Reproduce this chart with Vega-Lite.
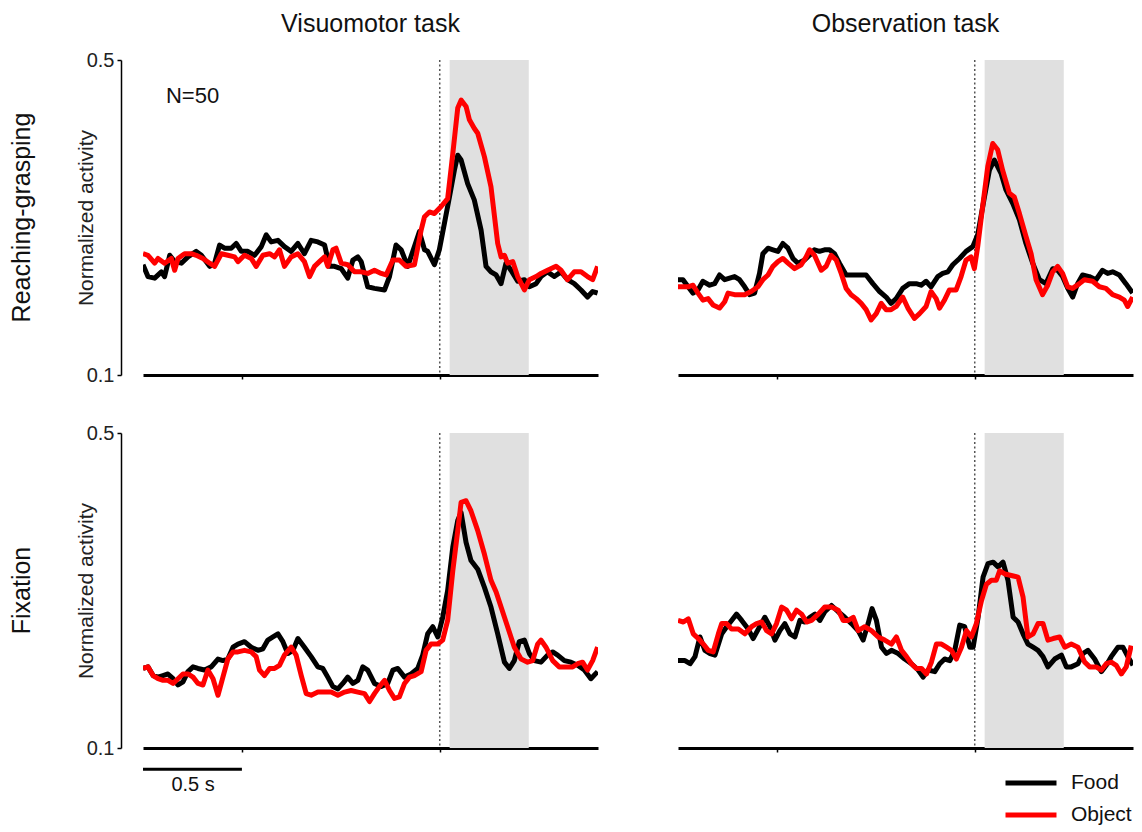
{
  "$schema": "https://vega.github.io/schema/vega-lite/v6.json",
  "padding": {"left": 10, "top": 12, "right": 5, "bottom": 5},
  "background": "white",
  "data": {"values": [
    {"task":"V","cond":"R","kind":"band","b0":0.05,"b1":0.45,"ev":0},
    {"task":"O","cond":"R","kind":"band","b0":0.05,"b1":0.45,"ev":0},
    {"task":"V","cond":"F","kind":"band","b0":0.05,"b1":0.45,"ev":0},
    {"task":"O","cond":"F","kind":"band","b0":0.05,"b1":0.45,"ev":0},
    {"task":"V","cond":"R","kind":"note","t":-1.384,"v":0.454,"label":"N=50"},
    {"task":"V","cond":"F","kind":"bar","t":-1.5,"t2":-1.0,"v":0.073},
    {"task":"V","cond":"F","kind":"barlabel","t":-1.247,"v":0.053,"label":"0.5 s"},

    {"task":"V","cond":"R","stim":"Food","t":-1.5,"v":0.240},
    {"task":"V","cond":"R","stim":"Food","t":-1.475,"v":0.225},
    {"task":"V","cond":"R","stim":"Food","t":-1.441,"v":0.223},
    {"task":"V","cond":"R","stim":"Food","t":-1.407,"v":0.231},
    {"task":"V","cond":"R","stim":"Food","t":-1.391,"v":0.225},
    {"task":"V","cond":"R","stim":"Food","t":-1.365,"v":0.252},
    {"task":"V","cond":"R","stim":"Food","t":-1.34,"v":0.244},
    {"task":"V","cond":"R","stim":"Food","t":-1.306,"v":0.242},
    {"task":"V","cond":"R","stim":"Food","t":-1.273,"v":0.250},
    {"task":"V","cond":"R","stim":"Food","t":-1.231,"v":0.257},
    {"task":"V","cond":"R","stim":"Food","t":-1.205,"v":0.252},
    {"task":"V","cond":"R","stim":"Food","t":-1.163,"v":0.238},
    {"task":"V","cond":"R","stim":"Food","t":-1.138,"v":0.242},
    {"task":"V","cond":"R","stim":"Food","t":-1.113,"v":0.265},
    {"task":"V","cond":"R","stim":"Food","t":-1.088,"v":0.261},
    {"task":"V","cond":"R","stim":"Food","t":-1.054,"v":0.261},
    {"task":"V","cond":"R","stim":"Food","t":-1.029,"v":0.267},
    {"task":"V","cond":"R","stim":"Food","t":-1.003,"v":0.257},
    {"task":"V","cond":"R","stim":"Food","t":-0.97,"v":0.257},
    {"task":"V","cond":"R","stim":"Food","t":-0.936,"v":0.252},
    {"task":"V","cond":"R","stim":"Food","t":-0.902,"v":0.263},
    {"task":"V","cond":"R","stim":"Food","t":-0.877,"v":0.278},
    {"task":"V","cond":"R","stim":"Food","t":-0.852,"v":0.269},
    {"task":"V","cond":"R","stim":"Food","t":-0.818,"v":0.271},
    {"task":"V","cond":"R","stim":"Food","t":-0.785,"v":0.263},
    {"task":"V","cond":"R","stim":"Food","t":-0.751,"v":0.257},
    {"task":"V","cond":"R","stim":"Food","t":-0.717,"v":0.267},
    {"task":"V","cond":"R","stim":"Food","t":-0.684,"v":0.254},
    {"task":"V","cond":"R","stim":"Food","t":-0.65,"v":0.271},
    {"task":"V","cond":"R","stim":"Food","t":-0.616,"v":0.269},
    {"task":"V","cond":"R","stim":"Food","t":-0.582,"v":0.265},
    {"task":"V","cond":"R","stim":"Food","t":-0.557,"v":0.238},
    {"task":"V","cond":"R","stim":"Food","t":-0.532,"v":0.238},
    {"task":"V","cond":"R","stim":"Food","t":-0.498,"v":0.235},
    {"task":"V","cond":"R","stim":"Food","t":-0.465,"v":0.223},
    {"task":"V","cond":"R","stim":"Food","t":-0.439,"v":0.246},
    {"task":"V","cond":"R","stim":"Food","t":-0.414,"v":0.250},
    {"task":"V","cond":"R","stim":"Food","t":-0.397,"v":0.244},
    {"task":"V","cond":"R","stim":"Food","t":-0.364,"v":0.212},
    {"task":"V","cond":"R","stim":"Food","t":-0.33,"v":0.210},
    {"task":"V","cond":"R","stim":"Food","t":-0.279,"v":0.208},
    {"task":"V","cond":"R","stim":"Food","t":-0.254,"v":0.225},
    {"task":"V","cond":"R","stim":"Food","t":-0.221,"v":0.265},
    {"task":"V","cond":"R","stim":"Food","t":-0.195,"v":0.259},
    {"task":"V","cond":"R","stim":"Food","t":-0.162,"v":0.238},
    {"task":"V","cond":"R","stim":"Food","t":-0.128,"v":0.263},
    {"task":"V","cond":"R","stim":"Food","t":-0.103,"v":0.282},
    {"task":"V","cond":"R","stim":"Food","t":-0.077,"v":0.259},
    {"task":"V","cond":"R","stim":"Food","t":-0.061,"v":0.257},
    {"task":"V","cond":"R","stim":"Food","t":-0.027,"v":0.240},
    {"task":"V","cond":"R","stim":"Food","t":-0.002,"v":0.259},
    {"task":"V","cond":"R","stim":"Food","t":0.024,"v":0.293},
    {"task":"V","cond":"R","stim":"Food","t":0.049,"v":0.326},
    {"task":"V","cond":"R","stim":"Food","t":0.074,"v":0.360},
    {"task":"V","cond":"R","stim":"Food","t":0.091,"v":0.379},
    {"task":"V","cond":"R","stim":"Food","t":0.108,"v":0.373},
    {"task":"V","cond":"R","stim":"Food","t":0.141,"v":0.343},
    {"task":"V","cond":"R","stim":"Food","t":0.175,"v":0.322},
    {"task":"V","cond":"R","stim":"Food","t":0.209,"v":0.284},
    {"task":"V","cond":"R","stim":"Food","t":0.234,"v":0.238},
    {"task":"V","cond":"R","stim":"Food","t":0.259,"v":0.231},
    {"task":"V","cond":"R","stim":"Food","t":0.285,"v":0.227},
    {"task":"V","cond":"R","stim":"Food","t":0.31,"v":0.216},
    {"task":"V","cond":"R","stim":"Food","t":0.335,"v":0.242},
    {"task":"V","cond":"R","stim":"Food","t":0.36,"v":0.233},
    {"task":"V","cond":"R","stim":"Food","t":0.394,"v":0.219},
    {"task":"V","cond":"R","stim":"Food","t":0.428,"v":0.221},
    {"task":"V","cond":"R","stim":"Food","t":0.453,"v":0.212},
    {"task":"V","cond":"R","stim":"Food","t":0.487,"v":0.216},
    {"task":"V","cond":"R","stim":"Food","t":0.512,"v":0.225},
    {"task":"V","cond":"R","stim":"Food","t":0.545,"v":0.231},
    {"task":"V","cond":"R","stim":"Food","t":0.579,"v":0.225},
    {"task":"V","cond":"R","stim":"Food","t":0.613,"v":0.231},
    {"task":"V","cond":"R","stim":"Food","t":0.646,"v":0.221},
    {"task":"V","cond":"R","stim":"Food","t":0.68,"v":0.216},
    {"task":"V","cond":"R","stim":"Food","t":0.714,"v":0.208},
    {"task":"V","cond":"R","stim":"Food","t":0.747,"v":0.199},
    {"task":"V","cond":"R","stim":"Food","t":0.773,"v":0.206},
    {"task":"V","cond":"R","stim":"Food","t":0.798,"v":0.204},

    {"task":"V","cond":"R","stim":"Object","t":-1.5,"v":0.254},
    {"task":"V","cond":"R","stim":"Object","t":-1.475,"v":0.252},
    {"task":"V","cond":"R","stim":"Object","t":-1.441,"v":0.242},
    {"task":"V","cond":"R","stim":"Object","t":-1.424,"v":0.248},
    {"task":"V","cond":"R","stim":"Object","t":-1.391,"v":0.242},
    {"task":"V","cond":"R","stim":"Object","t":-1.357,"v":0.248},
    {"task":"V","cond":"R","stim":"Object","t":-1.34,"v":0.233},
    {"task":"V","cond":"R","stim":"Object","t":-1.323,"v":0.248},
    {"task":"V","cond":"R","stim":"Object","t":-1.29,"v":0.254},
    {"task":"V","cond":"R","stim":"Object","t":-1.256,"v":0.254},
    {"task":"V","cond":"R","stim":"Object","t":-1.231,"v":0.252},
    {"task":"V","cond":"R","stim":"Object","t":-1.197,"v":0.248},
    {"task":"V","cond":"R","stim":"Object","t":-1.163,"v":0.242},
    {"task":"V","cond":"R","stim":"Object","t":-1.138,"v":0.238},
    {"task":"V","cond":"R","stim":"Object","t":-1.104,"v":0.254},
    {"task":"V","cond":"R","stim":"Object","t":-1.071,"v":0.252},
    {"task":"V","cond":"R","stim":"Object","t":-1.037,"v":0.250},
    {"task":"V","cond":"R","stim":"Object","t":-1.02,"v":0.244},
    {"task":"V","cond":"R","stim":"Object","t":-0.987,"v":0.252},
    {"task":"V","cond":"R","stim":"Object","t":-0.953,"v":0.248},
    {"task":"V","cond":"R","stim":"Object","t":-0.928,"v":0.238},
    {"task":"V","cond":"R","stim":"Object","t":-0.894,"v":0.252},
    {"task":"V","cond":"R","stim":"Object","t":-0.86,"v":0.254},
    {"task":"V","cond":"R","stim":"Object","t":-0.835,"v":0.250},
    {"task":"V","cond":"R","stim":"Object","t":-0.81,"v":0.259},
    {"task":"V","cond":"R","stim":"Object","t":-0.785,"v":0.238},
    {"task":"V","cond":"R","stim":"Object","t":-0.751,"v":0.250},
    {"task":"V","cond":"R","stim":"Object","t":-0.717,"v":0.254},
    {"task":"V","cond":"R","stim":"Object","t":-0.684,"v":0.244},
    {"task":"V","cond":"R","stim":"Object","t":-0.658,"v":0.225},
    {"task":"V","cond":"R","stim":"Object","t":-0.633,"v":0.238},
    {"task":"V","cond":"R","stim":"Object","t":-0.608,"v":0.244},
    {"task":"V","cond":"R","stim":"Object","t":-0.582,"v":0.250},
    {"task":"V","cond":"R","stim":"Object","t":-0.566,"v":0.238},
    {"task":"V","cond":"R","stim":"Object","t":-0.54,"v":0.259},
    {"task":"V","cond":"R","stim":"Object","t":-0.524,"v":0.261},
    {"task":"V","cond":"R","stim":"Object","t":-0.498,"v":0.242},
    {"task":"V","cond":"R","stim":"Object","t":-0.465,"v":0.240},
    {"task":"V","cond":"R","stim":"Object","t":-0.431,"v":0.231},
    {"task":"V","cond":"R","stim":"Object","t":-0.397,"v":0.231},
    {"task":"V","cond":"R","stim":"Object","t":-0.364,"v":0.229},
    {"task":"V","cond":"R","stim":"Object","t":-0.33,"v":0.233},
    {"task":"V","cond":"R","stim":"Object","t":-0.296,"v":0.229},
    {"task":"V","cond":"R","stim":"Object","t":-0.271,"v":0.227},
    {"task":"V","cond":"R","stim":"Object","t":-0.237,"v":0.246},
    {"task":"V","cond":"R","stim":"Object","t":-0.204,"v":0.246},
    {"task":"V","cond":"R","stim":"Object","t":-0.17,"v":0.238},
    {"task":"V","cond":"R","stim":"Object","t":-0.128,"v":0.240},
    {"task":"V","cond":"R","stim":"Object","t":-0.094,"v":0.284},
    {"task":"V","cond":"R","stim":"Object","t":-0.077,"v":0.301},
    {"task":"V","cond":"R","stim":"Object","t":-0.052,"v":0.307},
    {"task":"V","cond":"R","stim":"Object","t":-0.027,"v":0.305},
    {"task":"V","cond":"R","stim":"Object","t":0.007,"v":0.314},
    {"task":"V","cond":"R","stim":"Object","t":0.04,"v":0.324},
    {"task":"V","cond":"R","stim":"Object","t":0.066,"v":0.381},
    {"task":"V","cond":"R","stim":"Object","t":0.091,"v":0.439},
    {"task":"V","cond":"R","stim":"Object","t":0.108,"v":0.449},
    {"task":"V","cond":"R","stim":"Object","t":0.133,"v":0.441},
    {"task":"V","cond":"R","stim":"Object","t":0.15,"v":0.424},
    {"task":"V","cond":"R","stim":"Object","t":0.175,"v":0.413},
    {"task":"V","cond":"R","stim":"Object","t":0.192,"v":0.407},
    {"task":"V","cond":"R","stim":"Object","t":0.226,"v":0.377},
    {"task":"V","cond":"R","stim":"Object","t":0.259,"v":0.339},
    {"task":"V","cond":"R","stim":"Object","t":0.293,"v":0.267},
    {"task":"V","cond":"R","stim":"Object","t":0.31,"v":0.250},
    {"task":"V","cond":"R","stim":"Object","t":0.327,"v":0.252},
    {"task":"V","cond":"R","stim":"Object","t":0.343,"v":0.242},
    {"task":"V","cond":"R","stim":"Object","t":0.369,"v":0.244},
    {"task":"V","cond":"R","stim":"Object","t":0.394,"v":0.225},
    {"task":"V","cond":"R","stim":"Object","t":0.428,"v":0.208},
    {"task":"V","cond":"R","stim":"Object","t":0.453,"v":0.221},
    {"task":"V","cond":"R","stim":"Object","t":0.487,"v":0.225},
    {"task":"V","cond":"R","stim":"Object","t":0.512,"v":0.229},
    {"task":"V","cond":"R","stim":"Object","t":0.545,"v":0.233},
    {"task":"V","cond":"R","stim":"Object","t":0.588,"v":0.238},
    {"task":"V","cond":"R","stim":"Object","t":0.613,"v":0.233},
    {"task":"V","cond":"R","stim":"Object","t":0.646,"v":0.221},
    {"task":"V","cond":"R","stim":"Object","t":0.68,"v":0.231},
    {"task":"V","cond":"R","stim":"Object","t":0.714,"v":0.231},
    {"task":"V","cond":"R","stim":"Object","t":0.747,"v":0.225},
    {"task":"V","cond":"R","stim":"Object","t":0.773,"v":0.221},
    {"task":"V","cond":"R","stim":"Object","t":0.798,"v":0.238},

    {"task":"O","cond":"R","stim":"Food","t":-1.5,"v":0.221},
    {"task":"O","cond":"R","stim":"Food","t":-1.475,"v":0.221},
    {"task":"O","cond":"R","stim":"Food","t":-1.449,"v":0.212},
    {"task":"O","cond":"R","stim":"Food","t":-1.424,"v":0.204},
    {"task":"O","cond":"R","stim":"Food","t":-1.399,"v":0.208},
    {"task":"O","cond":"R","stim":"Food","t":-1.374,"v":0.219},
    {"task":"O","cond":"R","stim":"Food","t":-1.34,"v":0.214},
    {"task":"O","cond":"R","stim":"Food","t":-1.315,"v":0.216},
    {"task":"O","cond":"R","stim":"Food","t":-1.29,"v":0.227},
    {"task":"O","cond":"R","stim":"Food","t":-1.264,"v":0.221},
    {"task":"O","cond":"R","stim":"Food","t":-1.239,"v":0.223},
    {"task":"O","cond":"R","stim":"Food","t":-1.214,"v":0.225},
    {"task":"O","cond":"R","stim":"Food","t":-1.189,"v":0.221},
    {"task":"O","cond":"R","stim":"Food","t":-1.163,"v":0.212},
    {"task":"O","cond":"R","stim":"Food","t":-1.138,"v":0.202},
    {"task":"O","cond":"R","stim":"Food","t":-1.113,"v":0.204},
    {"task":"O","cond":"R","stim":"Food","t":-1.088,"v":0.229},
    {"task":"O","cond":"R","stim":"Food","t":-1.071,"v":0.254},
    {"task":"O","cond":"R","stim":"Food","t":-1.045,"v":0.261},
    {"task":"O","cond":"R","stim":"Food","t":-1.02,"v":0.259},
    {"task":"O","cond":"R","stim":"Food","t":-0.995,"v":0.257},
    {"task":"O","cond":"R","stim":"Food","t":-0.97,"v":0.267},
    {"task":"O","cond":"R","stim":"Food","t":-0.944,"v":0.261},
    {"task":"O","cond":"R","stim":"Food","t":-0.919,"v":0.248},
    {"task":"O","cond":"R","stim":"Food","t":-0.894,"v":0.242},
    {"task":"O","cond":"R","stim":"Food","t":-0.86,"v":0.246},
    {"task":"O","cond":"R","stim":"Food","t":-0.835,"v":0.252},
    {"task":"O","cond":"R","stim":"Food","t":-0.81,"v":0.259},
    {"task":"O","cond":"R","stim":"Food","t":-0.785,"v":0.257},
    {"task":"O","cond":"R","stim":"Food","t":-0.759,"v":0.259},
    {"task":"O","cond":"R","stim":"Food","t":-0.734,"v":0.259},
    {"task":"O","cond":"R","stim":"Food","t":-0.709,"v":0.254},
    {"task":"O","cond":"R","stim":"Food","t":-0.684,"v":0.242},
    {"task":"O","cond":"R","stim":"Food","t":-0.65,"v":0.227},
    {"task":"O","cond":"R","stim":"Food","t":-0.616,"v":0.227},
    {"task":"O","cond":"R","stim":"Food","t":-0.582,"v":0.227},
    {"task":"O","cond":"R","stim":"Food","t":-0.549,"v":0.227},
    {"task":"O","cond":"R","stim":"Food","t":-0.515,"v":0.216},
    {"task":"O","cond":"R","stim":"Food","t":-0.481,"v":0.206},
    {"task":"O","cond":"R","stim":"Food","t":-0.448,"v":0.199},
    {"task":"O","cond":"R","stim":"Food","t":-0.423,"v":0.191},
    {"task":"O","cond":"R","stim":"Food","t":-0.397,"v":0.197},
    {"task":"O","cond":"R","stim":"Food","t":-0.364,"v":0.210},
    {"task":"O","cond":"R","stim":"Food","t":-0.33,"v":0.216},
    {"task":"O","cond":"R","stim":"Food","t":-0.296,"v":0.216},
    {"task":"O","cond":"R","stim":"Food","t":-0.271,"v":0.214},
    {"task":"O","cond":"R","stim":"Food","t":-0.246,"v":0.219},
    {"task":"O","cond":"R","stim":"Food","t":-0.221,"v":0.212},
    {"task":"O","cond":"R","stim":"Food","t":-0.187,"v":0.225},
    {"task":"O","cond":"R","stim":"Food","t":-0.162,"v":0.229},
    {"task":"O","cond":"R","stim":"Food","t":-0.136,"v":0.231},
    {"task":"O","cond":"R","stim":"Food","t":-0.111,"v":0.240},
    {"task":"O","cond":"R","stim":"Food","t":-0.077,"v":0.248},
    {"task":"O","cond":"R","stim":"Food","t":-0.044,"v":0.257},
    {"task":"O","cond":"R","stim":"Food","t":-0.01,"v":0.263},
    {"task":"O","cond":"R","stim":"Food","t":0.015,"v":0.278},
    {"task":"O","cond":"R","stim":"Food","t":0.049,"v":0.326},
    {"task":"O","cond":"R","stim":"Food","t":0.074,"v":0.360},
    {"task":"O","cond":"R","stim":"Food","t":0.099,"v":0.373},
    {"task":"O","cond":"R","stim":"Food","t":0.133,"v":0.356},
    {"task":"O","cond":"R","stim":"Food","t":0.158,"v":0.335},
    {"task":"O","cond":"R","stim":"Food","t":0.192,"v":0.318},
    {"task":"O","cond":"R","stim":"Food","t":0.226,"v":0.297},
    {"task":"O","cond":"R","stim":"Food","t":0.259,"v":0.267},
    {"task":"O","cond":"R","stim":"Food","t":0.293,"v":0.242},
    {"task":"O","cond":"R","stim":"Food","t":0.327,"v":0.221},
    {"task":"O","cond":"R","stim":"Food","t":0.36,"v":0.216},
    {"task":"O","cond":"R","stim":"Food","t":0.394,"v":0.235},
    {"task":"O","cond":"R","stim":"Food","t":0.419,"v":0.233},
    {"task":"O","cond":"R","stim":"Food","t":0.444,"v":0.225},
    {"task":"O","cond":"R","stim":"Food","t":0.47,"v":0.210},
    {"task":"O","cond":"R","stim":"Food","t":0.495,"v":0.199},
    {"task":"O","cond":"R","stim":"Food","t":0.52,"v":0.216},
    {"task":"O","cond":"R","stim":"Food","t":0.545,"v":0.227},
    {"task":"O","cond":"R","stim":"Food","t":0.579,"v":0.225},
    {"task":"O","cond":"R","stim":"Food","t":0.613,"v":0.221},
    {"task":"O","cond":"R","stim":"Food","t":0.646,"v":0.233},
    {"task":"O","cond":"R","stim":"Food","t":0.672,"v":0.229},
    {"task":"O","cond":"R","stim":"Food","t":0.697,"v":0.231},
    {"task":"O","cond":"R","stim":"Food","t":0.731,"v":0.227},
    {"task":"O","cond":"R","stim":"Food","t":0.764,"v":0.216},
    {"task":"O","cond":"R","stim":"Food","t":0.798,"v":0.204},

    {"task":"O","cond":"R","stim":"Object","t":-1.5,"v":0.212},
    {"task":"O","cond":"R","stim":"Object","t":-1.475,"v":0.212},
    {"task":"O","cond":"R","stim":"Object","t":-1.449,"v":0.212},
    {"task":"O","cond":"R","stim":"Object","t":-1.424,"v":0.214},
    {"task":"O","cond":"R","stim":"Object","t":-1.399,"v":0.204},
    {"task":"O","cond":"R","stim":"Object","t":-1.374,"v":0.195},
    {"task":"O","cond":"R","stim":"Object","t":-1.348,"v":0.197},
    {"task":"O","cond":"R","stim":"Object","t":-1.323,"v":0.189},
    {"task":"O","cond":"R","stim":"Object","t":-1.29,"v":0.185},
    {"task":"O","cond":"R","stim":"Object","t":-1.264,"v":0.193},
    {"task":"O","cond":"R","stim":"Object","t":-1.247,"v":0.204},
    {"task":"O","cond":"R","stim":"Object","t":-1.214,"v":0.202},
    {"task":"O","cond":"R","stim":"Object","t":-1.189,"v":0.202},
    {"task":"O","cond":"R","stim":"Object","t":-1.163,"v":0.202},
    {"task":"O","cond":"R","stim":"Object","t":-1.13,"v":0.206},
    {"task":"O","cond":"R","stim":"Object","t":-1.096,"v":0.212},
    {"task":"O","cond":"R","stim":"Object","t":-1.071,"v":0.221},
    {"task":"O","cond":"R","stim":"Object","t":-1.045,"v":0.227},
    {"task":"O","cond":"R","stim":"Object","t":-1.02,"v":0.238},
    {"task":"O","cond":"R","stim":"Object","t":-0.995,"v":0.244},
    {"task":"O","cond":"R","stim":"Object","t":-0.97,"v":0.248},
    {"task":"O","cond":"R","stim":"Object","t":-0.944,"v":0.242},
    {"task":"O","cond":"R","stim":"Object","t":-0.911,"v":0.235},
    {"task":"O","cond":"R","stim":"Object","t":-0.877,"v":0.240},
    {"task":"O","cond":"R","stim":"Object","t":-0.852,"v":0.250},
    {"task":"O","cond":"R","stim":"Object","t":-0.835,"v":0.259},
    {"task":"O","cond":"R","stim":"Object","t":-0.81,"v":0.252},
    {"task":"O","cond":"R","stim":"Object","t":-0.776,"v":0.233},
    {"task":"O","cond":"R","stim":"Object","t":-0.751,"v":0.238},
    {"task":"O","cond":"R","stim":"Object","t":-0.726,"v":0.252},
    {"task":"O","cond":"R","stim":"Object","t":-0.7,"v":0.246},
    {"task":"O","cond":"R","stim":"Object","t":-0.675,"v":0.229},
    {"task":"O","cond":"R","stim":"Object","t":-0.65,"v":0.210},
    {"task":"O","cond":"R","stim":"Object","t":-0.625,"v":0.202},
    {"task":"O","cond":"R","stim":"Object","t":-0.599,"v":0.197},
    {"task":"O","cond":"R","stim":"Object","t":-0.574,"v":0.191},
    {"task":"O","cond":"R","stim":"Object","t":-0.549,"v":0.183},
    {"task":"O","cond":"R","stim":"Object","t":-0.524,"v":0.170},
    {"task":"O","cond":"R","stim":"Object","t":-0.498,"v":0.178},
    {"task":"O","cond":"R","stim":"Object","t":-0.473,"v":0.191},
    {"task":"O","cond":"R","stim":"Object","t":-0.448,"v":0.183},
    {"task":"O","cond":"R","stim":"Object","t":-0.423,"v":0.183},
    {"task":"O","cond":"R","stim":"Object","t":-0.397,"v":0.187},
    {"task":"O","cond":"R","stim":"Object","t":-0.364,"v":0.199},
    {"task":"O","cond":"R","stim":"Object","t":-0.338,"v":0.185},
    {"task":"O","cond":"R","stim":"Object","t":-0.305,"v":0.172},
    {"task":"O","cond":"R","stim":"Object","t":-0.279,"v":0.178},
    {"task":"O","cond":"R","stim":"Object","t":-0.246,"v":0.187},
    {"task":"O","cond":"R","stim":"Object","t":-0.221,"v":0.206},
    {"task":"O","cond":"R","stim":"Object","t":-0.195,"v":0.197},
    {"task":"O","cond":"R","stim":"Object","t":-0.178,"v":0.185},
    {"task":"O","cond":"R","stim":"Object","t":-0.153,"v":0.195},
    {"task":"O","cond":"R","stim":"Object","t":-0.128,"v":0.208},
    {"task":"O","cond":"R","stim":"Object","t":-0.094,"v":0.208},
    {"task":"O","cond":"R","stim":"Object","t":-0.069,"v":0.225},
    {"task":"O","cond":"R","stim":"Object","t":-0.044,"v":0.246},
    {"task":"O","cond":"R","stim":"Object","t":-0.019,"v":0.250},
    {"task":"O","cond":"R","stim":"Object","t":-0.002,"v":0.235},
    {"task":"O","cond":"R","stim":"Object","t":0.015,"v":0.263},
    {"task":"O","cond":"R","stim":"Object","t":0.04,"v":0.314},
    {"task":"O","cond":"R","stim":"Object","t":0.066,"v":0.365},
    {"task":"O","cond":"R","stim":"Object","t":0.091,"v":0.394},
    {"task":"O","cond":"R","stim":"Object","t":0.116,"v":0.386},
    {"task":"O","cond":"R","stim":"Object","t":0.141,"v":0.360},
    {"task":"O","cond":"R","stim":"Object","t":0.175,"v":0.331},
    {"task":"O","cond":"R","stim":"Object","t":0.2,"v":0.326},
    {"task":"O","cond":"R","stim":"Object","t":0.226,"v":0.305},
    {"task":"O","cond":"R","stim":"Object","t":0.259,"v":0.276},
    {"task":"O","cond":"R","stim":"Object","t":0.285,"v":0.254},
    {"task":"O","cond":"R","stim":"Object","t":0.31,"v":0.221},
    {"task":"O","cond":"R","stim":"Object","t":0.343,"v":0.202},
    {"task":"O","cond":"R","stim":"Object","t":0.369,"v":0.214},
    {"task":"O","cond":"R","stim":"Object","t":0.394,"v":0.231},
    {"task":"O","cond":"R","stim":"Object","t":0.419,"v":0.238},
    {"task":"O","cond":"R","stim":"Object","t":0.444,"v":0.229},
    {"task":"O","cond":"R","stim":"Object","t":0.47,"v":0.212},
    {"task":"O","cond":"R","stim":"Object","t":0.495,"v":0.210},
    {"task":"O","cond":"R","stim":"Object","t":0.529,"v":0.216},
    {"task":"O","cond":"R","stim":"Object","t":0.554,"v":0.221},
    {"task":"O","cond":"R","stim":"Object","t":0.596,"v":0.219},
    {"task":"O","cond":"R","stim":"Object","t":0.63,"v":0.212},
    {"task":"O","cond":"R","stim":"Object","t":0.663,"v":0.210},
    {"task":"O","cond":"R","stim":"Object","t":0.697,"v":0.202},
    {"task":"O","cond":"R","stim":"Object","t":0.731,"v":0.199},
    {"task":"O","cond":"R","stim":"Object","t":0.756,"v":0.195},
    {"task":"O","cond":"R","stim":"Object","t":0.773,"v":0.187},
    {"task":"O","cond":"R","stim":"Object","t":0.798,"v":0.199},

    {"task":"V","cond":"F","stim":"Food","t":-1.5,"v":0.201},
    {"task":"V","cond":"F","stim":"Food","t":-1.475,"v":0.203},
    {"task":"V","cond":"F","stim":"Food","t":-1.449,"v":0.192},
    {"task":"V","cond":"F","stim":"Food","t":-1.424,"v":0.190},
    {"task":"V","cond":"F","stim":"Food","t":-1.399,"v":0.192},
    {"task":"V","cond":"F","stim":"Food","t":-1.374,"v":0.194},
    {"task":"V","cond":"F","stim":"Food","t":-1.348,"v":0.188},
    {"task":"V","cond":"F","stim":"Food","t":-1.323,"v":0.180},
    {"task":"V","cond":"F","stim":"Food","t":-1.298,"v":0.184},
    {"task":"V","cond":"F","stim":"Food","t":-1.273,"v":0.197},
    {"task":"V","cond":"F","stim":"Food","t":-1.247,"v":0.203},
    {"task":"V","cond":"F","stim":"Food","t":-1.222,"v":0.201},
    {"task":"V","cond":"F","stim":"Food","t":-1.189,"v":0.199},
    {"task":"V","cond":"F","stim":"Food","t":-1.155,"v":0.203},
    {"task":"V","cond":"F","stim":"Food","t":-1.121,"v":0.213},
    {"task":"V","cond":"F","stim":"Food","t":-1.096,"v":0.211},
    {"task":"V","cond":"F","stim":"Food","t":-1.071,"v":0.213},
    {"task":"V","cond":"F","stim":"Food","t":-1.045,"v":0.228},
    {"task":"V","cond":"F","stim":"Food","t":-1.02,"v":0.232},
    {"task":"V","cond":"F","stim":"Food","t":-0.987,"v":0.235},
    {"task":"V","cond":"F","stim":"Food","t":-0.953,"v":0.228},
    {"task":"V","cond":"F","stim":"Food","t":-0.919,"v":0.224},
    {"task":"V","cond":"F","stim":"Food","t":-0.894,"v":0.226},
    {"task":"V","cond":"F","stim":"Food","t":-0.869,"v":0.237},
    {"task":"V","cond":"F","stim":"Food","t":-0.843,"v":0.241},
    {"task":"V","cond":"F","stim":"Food","t":-0.818,"v":0.245},
    {"task":"V","cond":"F","stim":"Food","t":-0.793,"v":0.235},
    {"task":"V","cond":"F","stim":"Food","t":-0.768,"v":0.220},
    {"task":"V","cond":"F","stim":"Food","t":-0.742,"v":0.224},
    {"task":"V","cond":"F","stim":"Food","t":-0.717,"v":0.239},
    {"task":"V","cond":"F","stim":"Food","t":-0.684,"v":0.228},
    {"task":"V","cond":"F","stim":"Food","t":-0.65,"v":0.216},
    {"task":"V","cond":"F","stim":"Food","t":-0.616,"v":0.203},
    {"task":"V","cond":"F","stim":"Food","t":-0.591,"v":0.201},
    {"task":"V","cond":"F","stim":"Food","t":-0.566,"v":0.190},
    {"task":"V","cond":"F","stim":"Food","t":-0.54,"v":0.178},
    {"task":"V","cond":"F","stim":"Food","t":-0.515,"v":0.175},
    {"task":"V","cond":"F","stim":"Food","t":-0.49,"v":0.182},
    {"task":"V","cond":"F","stim":"Food","t":-0.465,"v":0.190},
    {"task":"V","cond":"F","stim":"Food","t":-0.439,"v":0.182},
    {"task":"V","cond":"F","stim":"Food","t":-0.414,"v":0.186},
    {"task":"V","cond":"F","stim":"Food","t":-0.389,"v":0.203},
    {"task":"V","cond":"F","stim":"Food","t":-0.364,"v":0.199},
    {"task":"V","cond":"F","stim":"Food","t":-0.33,"v":0.182},
    {"task":"V","cond":"F","stim":"Food","t":-0.296,"v":0.178},
    {"task":"V","cond":"F","stim":"Food","t":-0.263,"v":0.182},
    {"task":"V","cond":"F","stim":"Food","t":-0.237,"v":0.199},
    {"task":"V","cond":"F","stim":"Food","t":-0.212,"v":0.201},
    {"task":"V","cond":"F","stim":"Food","t":-0.178,"v":0.190},
    {"task":"V","cond":"F","stim":"Food","t":-0.145,"v":0.194},
    {"task":"V","cond":"F","stim":"Food","t":-0.111,"v":0.201},
    {"task":"V","cond":"F","stim":"Food","t":-0.086,"v":0.218},
    {"task":"V","cond":"F","stim":"Food","t":-0.061,"v":0.245},
    {"task":"V","cond":"F","stim":"Food","t":-0.035,"v":0.254},
    {"task":"V","cond":"F","stim":"Food","t":-0.01,"v":0.241},
    {"task":"V","cond":"F","stim":"Food","t":0.015,"v":0.266},
    {"task":"V","cond":"F","stim":"Food","t":0.04,"v":0.300},
    {"task":"V","cond":"F","stim":"Food","t":0.066,"v":0.355},
    {"task":"V","cond":"F","stim":"Food","t":0.091,"v":0.389},
    {"task":"V","cond":"F","stim":"Food","t":0.108,"v":0.399},
    {"task":"V","cond":"F","stim":"Food","t":0.133,"v":0.361},
    {"task":"V","cond":"F","stim":"Food","t":0.158,"v":0.338},
    {"task":"V","cond":"F","stim":"Food","t":0.192,"v":0.327},
    {"task":"V","cond":"F","stim":"Food","t":0.226,"v":0.304},
    {"task":"V","cond":"F","stim":"Food","t":0.259,"v":0.279},
    {"task":"V","cond":"F","stim":"Food","t":0.293,"v":0.245},
    {"task":"V","cond":"F","stim":"Food","t":0.327,"v":0.209},
    {"task":"V","cond":"F","stim":"Food","t":0.352,"v":0.201},
    {"task":"V","cond":"F","stim":"Food","t":0.377,"v":0.211},
    {"task":"V","cond":"F","stim":"Food","t":0.402,"v":0.235},
    {"task":"V","cond":"F","stim":"Food","t":0.428,"v":0.237},
    {"task":"V","cond":"F","stim":"Food","t":0.453,"v":0.220},
    {"task":"V","cond":"F","stim":"Food","t":0.478,"v":0.211},
    {"task":"V","cond":"F","stim":"Food","t":0.512,"v":0.209},
    {"task":"V","cond":"F","stim":"Food","t":0.545,"v":0.218},
    {"task":"V","cond":"F","stim":"Food","t":0.571,"v":0.222},
    {"task":"V","cond":"F","stim":"Food","t":0.596,"v":0.218},
    {"task":"V","cond":"F","stim":"Food","t":0.63,"v":0.211},
    {"task":"V","cond":"F","stim":"Food","t":0.663,"v":0.209},
    {"task":"V","cond":"F","stim":"Food","t":0.697,"v":0.205},
    {"task":"V","cond":"F","stim":"Food","t":0.731,"v":0.199},
    {"task":"V","cond":"F","stim":"Food","t":0.764,"v":0.188},
    {"task":"V","cond":"F","stim":"Food","t":0.798,"v":0.197},

    {"task":"V","cond":"F","stim":"Object","t":-1.5,"v":0.201},
    {"task":"V","cond":"F","stim":"Object","t":-1.475,"v":0.203},
    {"task":"V","cond":"F","stim":"Object","t":-1.449,"v":0.192},
    {"task":"V","cond":"F","stim":"Object","t":-1.424,"v":0.188},
    {"task":"V","cond":"F","stim":"Object","t":-1.399,"v":0.186},
    {"task":"V","cond":"F","stim":"Object","t":-1.374,"v":0.186},
    {"task":"V","cond":"F","stim":"Object","t":-1.348,"v":0.182},
    {"task":"V","cond":"F","stim":"Object","t":-1.323,"v":0.188},
    {"task":"V","cond":"F","stim":"Object","t":-1.298,"v":0.194},
    {"task":"V","cond":"F","stim":"Object","t":-1.273,"v":0.194},
    {"task":"V","cond":"F","stim":"Object","t":-1.247,"v":0.190},
    {"task":"V","cond":"F","stim":"Object","t":-1.222,"v":0.182},
    {"task":"V","cond":"F","stim":"Object","t":-1.197,"v":0.180},
    {"task":"V","cond":"F","stim":"Object","t":-1.172,"v":0.199},
    {"task":"V","cond":"F","stim":"Object","t":-1.146,"v":0.188},
    {"task":"V","cond":"F","stim":"Object","t":-1.121,"v":0.167},
    {"task":"V","cond":"F","stim":"Object","t":-1.096,"v":0.190},
    {"task":"V","cond":"F","stim":"Object","t":-1.071,"v":0.213},
    {"task":"V","cond":"F","stim":"Object","t":-1.045,"v":0.222},
    {"task":"V","cond":"F","stim":"Object","t":-1.02,"v":0.222},
    {"task":"V","cond":"F","stim":"Object","t":-0.987,"v":0.224},
    {"task":"V","cond":"F","stim":"Object","t":-0.953,"v":0.222},
    {"task":"V","cond":"F","stim":"Object","t":-0.928,"v":0.216},
    {"task":"V","cond":"F","stim":"Object","t":-0.911,"v":0.199},
    {"task":"V","cond":"F","stim":"Object","t":-0.886,"v":0.192},
    {"task":"V","cond":"F","stim":"Object","t":-0.86,"v":0.201},
    {"task":"V","cond":"F","stim":"Object","t":-0.835,"v":0.201},
    {"task":"V","cond":"F","stim":"Object","t":-0.81,"v":0.205},
    {"task":"V","cond":"F","stim":"Object","t":-0.785,"v":0.218},
    {"task":"V","cond":"F","stim":"Object","t":-0.751,"v":0.228},
    {"task":"V","cond":"F","stim":"Object","t":-0.726,"v":0.218},
    {"task":"V","cond":"F","stim":"Object","t":-0.7,"v":0.192},
    {"task":"V","cond":"F","stim":"Object","t":-0.675,"v":0.169},
    {"task":"V","cond":"F","stim":"Object","t":-0.65,"v":0.167},
    {"task":"V","cond":"F","stim":"Object","t":-0.616,"v":0.171},
    {"task":"V","cond":"F","stim":"Object","t":-0.582,"v":0.171},
    {"task":"V","cond":"F","stim":"Object","t":-0.549,"v":0.171},
    {"task":"V","cond":"F","stim":"Object","t":-0.515,"v":0.167},
    {"task":"V","cond":"F","stim":"Object","t":-0.481,"v":0.171},
    {"task":"V","cond":"F","stim":"Object","t":-0.448,"v":0.173},
    {"task":"V","cond":"F","stim":"Object","t":-0.414,"v":0.171},
    {"task":"V","cond":"F","stim":"Object","t":-0.38,"v":0.169},
    {"task":"V","cond":"F","stim":"Object","t":-0.355,"v":0.159},
    {"task":"V","cond":"F","stim":"Object","t":-0.33,"v":0.169},
    {"task":"V","cond":"F","stim":"Object","t":-0.305,"v":0.178},
    {"task":"V","cond":"F","stim":"Object","t":-0.279,"v":0.186},
    {"task":"V","cond":"F","stim":"Object","t":-0.254,"v":0.173},
    {"task":"V","cond":"F","stim":"Object","t":-0.229,"v":0.163},
    {"task":"V","cond":"F","stim":"Object","t":-0.204,"v":0.165},
    {"task":"V","cond":"F","stim":"Object","t":-0.178,"v":0.182},
    {"task":"V","cond":"F","stim":"Object","t":-0.153,"v":0.190},
    {"task":"V","cond":"F","stim":"Object","t":-0.128,"v":0.192},
    {"task":"V","cond":"F","stim":"Object","t":-0.094,"v":0.197},
    {"task":"V","cond":"F","stim":"Object","t":-0.069,"v":0.224},
    {"task":"V","cond":"F","stim":"Object","t":-0.044,"v":0.232},
    {"task":"V","cond":"F","stim":"Object","t":-0.01,"v":0.232},
    {"task":"V","cond":"F","stim":"Object","t":0.015,"v":0.237},
    {"task":"V","cond":"F","stim":"Object","t":0.04,"v":0.262},
    {"task":"V","cond":"F","stim":"Object","t":0.066,"v":0.325},
    {"task":"V","cond":"F","stim":"Object","t":0.091,"v":0.376},
    {"task":"V","cond":"F","stim":"Object","t":0.108,"v":0.412},
    {"task":"V","cond":"F","stim":"Object","t":0.133,"v":0.414},
    {"task":"V","cond":"F","stim":"Object","t":0.158,"v":0.401},
    {"task":"V","cond":"F","stim":"Object","t":0.192,"v":0.376},
    {"task":"V","cond":"F","stim":"Object","t":0.226,"v":0.346},
    {"task":"V","cond":"F","stim":"Object","t":0.259,"v":0.313},
    {"task":"V","cond":"F","stim":"Object","t":0.285,"v":0.298},
    {"task":"V","cond":"F","stim":"Object","t":0.31,"v":0.279},
    {"task":"V","cond":"F","stim":"Object","t":0.343,"v":0.254},
    {"task":"V","cond":"F","stim":"Object","t":0.377,"v":0.228},
    {"task":"V","cond":"F","stim":"Object","t":0.411,"v":0.213},
    {"task":"V","cond":"F","stim":"Object","t":0.444,"v":0.209},
    {"task":"V","cond":"F","stim":"Object","t":0.47,"v":0.211},
    {"task":"V","cond":"F","stim":"Object","t":0.495,"v":0.232},
    {"task":"V","cond":"F","stim":"Object","t":0.512,"v":0.237},
    {"task":"V","cond":"F","stim":"Object","t":0.537,"v":0.228},
    {"task":"V","cond":"F","stim":"Object","t":0.571,"v":0.211},
    {"task":"V","cond":"F","stim":"Object","t":0.604,"v":0.203},
    {"task":"V","cond":"F","stim":"Object","t":0.638,"v":0.203},
    {"task":"V","cond":"F","stim":"Object","t":0.672,"v":0.203},
    {"task":"V","cond":"F","stim":"Object","t":0.697,"v":0.207},
    {"task":"V","cond":"F","stim":"Object","t":0.722,"v":0.209},
    {"task":"V","cond":"F","stim":"Object","t":0.747,"v":0.199},
    {"task":"V","cond":"F","stim":"Object","t":0.773,"v":0.211},
    {"task":"V","cond":"F","stim":"Object","t":0.798,"v":0.228},

    {"task":"O","cond":"F","stim":"Food","t":-1.5,"v":0.211},
    {"task":"O","cond":"F","stim":"Food","t":-1.465,"v":0.211},
    {"task":"O","cond":"F","stim":"Food","t":-1.439,"v":0.207},
    {"task":"O","cond":"F","stim":"Food","t":-1.414,"v":0.216},
    {"task":"O","cond":"F","stim":"Food","t":-1.389,"v":0.241},
    {"task":"O","cond":"F","stim":"Food","t":-1.364,"v":0.224},
    {"task":"O","cond":"F","stim":"Food","t":-1.338,"v":0.220},
    {"task":"O","cond":"F","stim":"Food","t":-1.313,"v":0.218},
    {"task":"O","cond":"F","stim":"Food","t":-1.279,"v":0.245},
    {"task":"O","cond":"F","stim":"Food","t":-1.254,"v":0.254},
    {"task":"O","cond":"F","stim":"Food","t":-1.229,"v":0.262},
    {"task":"O","cond":"F","stim":"Food","t":-1.204,"v":0.270},
    {"task":"O","cond":"F","stim":"Food","t":-1.178,"v":0.262},
    {"task":"O","cond":"F","stim":"Food","t":-1.145,"v":0.251},
    {"task":"O","cond":"F","stim":"Food","t":-1.12,"v":0.239},
    {"task":"O","cond":"F","stim":"Food","t":-1.094,"v":0.251},
    {"task":"O","cond":"F","stim":"Food","t":-1.061,"v":0.266},
    {"task":"O","cond":"F","stim":"Food","t":-1.035,"v":0.254},
    {"task":"O","cond":"F","stim":"Food","t":-1.01,"v":0.237},
    {"task":"O","cond":"F","stim":"Food","t":-0.985,"v":0.249},
    {"task":"O","cond":"F","stim":"Food","t":-0.96,"v":0.258},
    {"task":"O","cond":"F","stim":"Food","t":-0.934,"v":0.245},
    {"task":"O","cond":"F","stim":"Food","t":-0.909,"v":0.241},
    {"task":"O","cond":"F","stim":"Food","t":-0.884,"v":0.262},
    {"task":"O","cond":"F","stim":"Food","t":-0.859,"v":0.260},
    {"task":"O","cond":"F","stim":"Food","t":-0.833,"v":0.266},
    {"task":"O","cond":"F","stim":"Food","t":-0.808,"v":0.270},
    {"task":"O","cond":"F","stim":"Food","t":-0.783,"v":0.262},
    {"task":"O","cond":"F","stim":"Food","t":-0.758,"v":0.273},
    {"task":"O","cond":"F","stim":"Food","t":-0.724,"v":0.281},
    {"task":"O","cond":"F","stim":"Food","t":-0.69,"v":0.273},
    {"task":"O","cond":"F","stim":"Food","t":-0.657,"v":0.266},
    {"task":"O","cond":"F","stim":"Food","t":-0.623,"v":0.258},
    {"task":"O","cond":"F","stim":"Food","t":-0.589,"v":0.249},
    {"task":"O","cond":"F","stim":"Food","t":-0.564,"v":0.237},
    {"task":"O","cond":"F","stim":"Food","t":-0.539,"v":0.258},
    {"task":"O","cond":"F","stim":"Food","t":-0.519,"v":0.277},
    {"task":"O","cond":"F","stim":"Food","t":-0.497,"v":0.262},
    {"task":"O","cond":"F","stim":"Food","t":-0.471,"v":0.228},
    {"task":"O","cond":"F","stim":"Food","t":-0.446,"v":0.220},
    {"task":"O","cond":"F","stim":"Food","t":-0.421,"v":0.224},
    {"task":"O","cond":"F","stim":"Food","t":-0.387,"v":0.220},
    {"task":"O","cond":"F","stim":"Food","t":-0.354,"v":0.213},
    {"task":"O","cond":"F","stim":"Food","t":-0.32,"v":0.207},
    {"task":"O","cond":"F","stim":"Food","t":-0.286,"v":0.199},
    {"task":"O","cond":"F","stim":"Food","t":-0.261,"v":0.190},
    {"task":"O","cond":"F","stim":"Food","t":-0.236,"v":0.199},
    {"task":"O","cond":"F","stim":"Food","t":-0.202,"v":0.197},
    {"task":"O","cond":"F","stim":"Food","t":-0.177,"v":0.207},
    {"task":"O","cond":"F","stim":"Food","t":-0.152,"v":0.213},
    {"task":"O","cond":"F","stim":"Food","t":-0.126,"v":0.211},
    {"task":"O","cond":"F","stim":"Food","t":-0.101,"v":0.224},
    {"task":"O","cond":"F","stim":"Food","t":-0.076,"v":0.256},
    {"task":"O","cond":"F","stim":"Food","t":-0.051,"v":0.254},
    {"task":"O","cond":"F","stim":"Food","t":-0.025,"v":0.228},
    {"task":"O","cond":"F","stim":"Food","t":-0.008,"v":0.228},
    {"task":"O","cond":"F","stim":"Food","t":0.017,"v":0.266},
    {"task":"O","cond":"F","stim":"Food","t":0.042,"v":0.317},
    {"task":"O","cond":"F","stim":"Food","t":0.067,"v":0.334},
    {"task":"O","cond":"F","stim":"Food","t":0.093,"v":0.336},
    {"task":"O","cond":"F","stim":"Food","t":0.118,"v":0.330},
    {"task":"O","cond":"F","stim":"Food","t":0.143,"v":0.336},
    {"task":"O","cond":"F","stim":"Food","t":0.168,"v":0.313},
    {"task":"O","cond":"F","stim":"Food","t":0.194,"v":0.266},
    {"task":"O","cond":"F","stim":"Food","t":0.219,"v":0.260},
    {"task":"O","cond":"F","stim":"Food","t":0.244,"v":0.245},
    {"task":"O","cond":"F","stim":"Food","t":0.269,"v":0.232},
    {"task":"O","cond":"F","stim":"Food","t":0.295,"v":0.228},
    {"task":"O","cond":"F","stim":"Food","t":0.32,"v":0.224},
    {"task":"O","cond":"F","stim":"Food","t":0.345,"v":0.216},
    {"task":"O","cond":"F","stim":"Food","t":0.37,"v":0.203},
    {"task":"O","cond":"F","stim":"Food","t":0.404,"v":0.213},
    {"task":"O","cond":"F","stim":"Food","t":0.438,"v":0.218},
    {"task":"O","cond":"F","stim":"Food","t":0.463,"v":0.203},
    {"task":"O","cond":"F","stim":"Food","t":0.488,"v":0.203},
    {"task":"O","cond":"F","stim":"Food","t":0.522,"v":0.207},
    {"task":"O","cond":"F","stim":"Food","t":0.547,"v":0.220},
    {"task":"O","cond":"F","stim":"Food","t":0.572,"v":0.224},
    {"task":"O","cond":"F","stim":"Food","t":0.606,"v":0.213},
    {"task":"O","cond":"F","stim":"Food","t":0.64,"v":0.197},
    {"task":"O","cond":"F","stim":"Food","t":0.665,"v":0.205},
    {"task":"O","cond":"F","stim":"Food","t":0.69,"v":0.216},
    {"task":"O","cond":"F","stim":"Food","t":0.724,"v":0.228},
    {"task":"O","cond":"F","stim":"Food","t":0.749,"v":0.228},
    {"task":"O","cond":"F","stim":"Food","t":0.774,"v":0.216},
    {"task":"O","cond":"F","stim":"Food","t":0.8,"v":0.205},

    {"task":"O","cond":"F","stim":"Object","t":-1.5,"v":0.262},
    {"task":"O","cond":"F","stim":"Object","t":-1.473,"v":0.260},
    {"task":"O","cond":"F","stim":"Object","t":-1.448,"v":0.264},
    {"task":"O","cond":"F","stim":"Object","t":-1.423,"v":0.245},
    {"task":"O","cond":"F","stim":"Object","t":-1.397,"v":0.239},
    {"task":"O","cond":"F","stim":"Object","t":-1.372,"v":0.232},
    {"task":"O","cond":"F","stim":"Object","t":-1.347,"v":0.224},
    {"task":"O","cond":"F","stim":"Object","t":-1.322,"v":0.222},
    {"task":"O","cond":"F","stim":"Object","t":-1.296,"v":0.245},
    {"task":"O","cond":"F","stim":"Object","t":-1.279,"v":0.258},
    {"task":"O","cond":"F","stim":"Object","t":-1.254,"v":0.258},
    {"task":"O","cond":"F","stim":"Object","t":-1.229,"v":0.251},
    {"task":"O","cond":"F","stim":"Object","t":-1.195,"v":0.251},
    {"task":"O","cond":"F","stim":"Object","t":-1.162,"v":0.245},
    {"task":"O","cond":"F","stim":"Object","t":-1.128,"v":0.254},
    {"task":"O","cond":"F","stim":"Object","t":-1.103,"v":0.258},
    {"task":"O","cond":"F","stim":"Object","t":-1.077,"v":0.260},
    {"task":"O","cond":"F","stim":"Object","t":-1.052,"v":0.249},
    {"task":"O","cond":"F","stim":"Object","t":-1.027,"v":0.245},
    {"task":"O","cond":"F","stim":"Object","t":-1.002,"v":0.258},
    {"task":"O","cond":"F","stim":"Object","t":-0.976,"v":0.279},
    {"task":"O","cond":"F","stim":"Object","t":-0.951,"v":0.275},
    {"task":"O","cond":"F","stim":"Object","t":-0.926,"v":0.264},
    {"task":"O","cond":"F","stim":"Object","t":-0.901,"v":0.275},
    {"task":"O","cond":"F","stim":"Object","t":-0.875,"v":0.270},
    {"task":"O","cond":"F","stim":"Object","t":-0.85,"v":0.260},
    {"task":"O","cond":"F","stim":"Object","t":-0.825,"v":0.262},
    {"task":"O","cond":"F","stim":"Object","t":-0.791,"v":0.270},
    {"task":"O","cond":"F","stim":"Object","t":-0.758,"v":0.279},
    {"task":"O","cond":"F","stim":"Object","t":-0.724,"v":0.279},
    {"task":"O","cond":"F","stim":"Object","t":-0.69,"v":0.275},
    {"task":"O","cond":"F","stim":"Object","t":-0.665,"v":0.262},
    {"task":"O","cond":"F","stim":"Object","t":-0.64,"v":0.262},
    {"task":"O","cond":"F","stim":"Object","t":-0.614,"v":0.266},
    {"task":"O","cond":"F","stim":"Object","t":-0.589,"v":0.249},
    {"task":"O","cond":"F","stim":"Object","t":-0.556,"v":0.254},
    {"task":"O","cond":"F","stim":"Object","t":-0.522,"v":0.249},
    {"task":"O","cond":"F","stim":"Object","t":-0.488,"v":0.241},
    {"task":"O","cond":"F","stim":"Object","t":-0.455,"v":0.237},
    {"task":"O","cond":"F","stim":"Object","t":-0.421,"v":0.232},
    {"task":"O","cond":"F","stim":"Object","t":-0.396,"v":0.241},
    {"task":"O","cond":"F","stim":"Object","t":-0.37,"v":0.224},
    {"task":"O","cond":"F","stim":"Object","t":-0.345,"v":0.216},
    {"task":"O","cond":"F","stim":"Object","t":-0.32,"v":0.207},
    {"task":"O","cond":"F","stim":"Object","t":-0.295,"v":0.201},
    {"task":"O","cond":"F","stim":"Object","t":-0.269,"v":0.201},
    {"task":"O","cond":"F","stim":"Object","t":-0.244,"v":0.194},
    {"task":"O","cond":"F","stim":"Object","t":-0.219,"v":0.209},
    {"task":"O","cond":"F","stim":"Object","t":-0.194,"v":0.232},
    {"task":"O","cond":"F","stim":"Object","t":-0.168,"v":0.232},
    {"task":"O","cond":"F","stim":"Object","t":-0.143,"v":0.228},
    {"task":"O","cond":"F","stim":"Object","t":-0.118,"v":0.224},
    {"task":"O","cond":"F","stim":"Object","t":-0.093,"v":0.213},
    {"task":"O","cond":"F","stim":"Object","t":-0.067,"v":0.228},
    {"task":"O","cond":"F","stim":"Object","t":-0.042,"v":0.249},
    {"task":"O","cond":"F","stim":"Object","t":-0.017,"v":0.241},
    {"task":"O","cond":"F","stim":"Object","t":0.008,"v":0.258},
    {"task":"O","cond":"F","stim":"Object","t":0.034,"v":0.287},
    {"task":"O","cond":"F","stim":"Object","t":0.059,"v":0.308},
    {"task":"O","cond":"F","stim":"Object","t":0.084,"v":0.313},
    {"task":"O","cond":"F","stim":"Object","t":0.109,"v":0.313},
    {"task":"O","cond":"F","stim":"Object","t":0.126,"v":0.325},
    {"task":"O","cond":"F","stim":"Object","t":0.152,"v":0.321},
    {"task":"O","cond":"F","stim":"Object","t":0.185,"v":0.319},
    {"task":"O","cond":"F","stim":"Object","t":0.219,"v":0.317},
    {"task":"O","cond":"F","stim":"Object","t":0.244,"v":0.292},
    {"task":"O","cond":"F","stim":"Object","t":0.269,"v":0.241},
    {"task":"O","cond":"F","stim":"Object","t":0.295,"v":0.245},
    {"task":"O","cond":"F","stim":"Object","t":0.32,"v":0.258},
    {"task":"O","cond":"F","stim":"Object","t":0.345,"v":0.258},
    {"task":"O","cond":"F","stim":"Object","t":0.37,"v":0.237},
    {"task":"O","cond":"F","stim":"Object","t":0.396,"v":0.239},
    {"task":"O","cond":"F","stim":"Object","t":0.429,"v":0.241},
    {"task":"O","cond":"F","stim":"Object","t":0.455,"v":0.228},
    {"task":"O","cond":"F","stim":"Object","t":0.488,"v":0.232},
    {"task":"O","cond":"F","stim":"Object","t":0.522,"v":0.228},
    {"task":"O","cond":"F","stim":"Object","t":0.556,"v":0.209},
    {"task":"O","cond":"F","stim":"Object","t":0.581,"v":0.203},
    {"task":"O","cond":"F","stim":"Object","t":0.614,"v":0.203},
    {"task":"O","cond":"F","stim":"Object","t":0.64,"v":0.199},
    {"task":"O","cond":"F","stim":"Object","t":0.665,"v":0.207},
    {"task":"O","cond":"F","stim":"Object","t":0.69,"v":0.209},
    {"task":"O","cond":"F","stim":"Object","t":0.715,"v":0.205},
    {"task":"O","cond":"F","stim":"Object","t":0.741,"v":0.194},
    {"task":"O","cond":"F","stim":"Object","t":0.766,"v":0.203},
    {"task":"O","cond":"F","stim":"Object","t":0.791,"v":0.230}
  ]},
  "facet": {
    "row": {
      "field": "cond", "type": "nominal", "sort": ["R", "F"],
      "header": {
        "title": null,
        "labelExpr": "datum.value == 'R' ? 'Reaching-grasping' : 'Fixation'",
        "labelFontSize": 25, "labelAngle": -90, "labelPadding": 28, "labelColor": "#111"
      }
    },
    "column": {
      "field": "task", "type": "nominal", "sort": ["V", "O"],
      "header": {
        "title": null,
        "labelExpr": "datum.value == 'V' ? 'Visuomotor task' : 'Observation task'",
        "labelFontSize": 25, "labelPadding": 22, "labelColor": "#111"
      }
    }
  },
  "spacing": {"row": 9, "column": 80},
  "resolve": {"axis": {"x": "independent"}},
  "spec": {
    "width": 455,
    "height": 315,
    "layer": [
      {
        "transform": [{"filter": "datum.kind == 'band'"}],
        "mark": {"type": "rect", "color": "#e0e0e0"},
        "encoding": {
          "x": {"field": "b0", "type": "quantitative"},
          "x2": {"field": "b1"}
        }
      },
      {
        "transform": [{"filter": "datum.kind == 'band'"}],
        "mark": {"type": "rule", "color": "#555555", "strokeWidth": 1.5, "strokeDash": [2, 2.5]},
        "encoding": {
          "x": {"field": "ev", "type": "quantitative"}
        }
      },
      {
        "transform": [{"filter": "isValid(datum.stim)"}],
        "mark": {"type": "line", "strokeWidth": 5, "strokeJoin": "round", "clip": true},
        "encoding": {
          "x": {
            "field": "t", "type": "quantitative",
            "scale": {"domain": [-1.5, 0.8], "nice": false, "zero": false},
            "axis": {
              "title": null, "labels": false, "values": [-1, 0],
              "domainWidth": 3, "domainColor": "#000", "tickColor": "#000",
              "tickSize": 4, "tickWidth": 1.5
            }
          },
          "y": {
            "field": "v", "type": "quantitative",
            "scale": {"domain": [0.1, 0.5], "nice": false, "zero": false},
            "axis": {
              "title": "Normalized activity", "values": [0.1, 0.5], "format": ".1f",
              "offset": 20, "domainWidth": 1.5, "domainColor": "#000",
              "tickColor": "#000", "tickSize": 4, "tickWidth": 1.5,
              "labelFontSize": 20, "labelColor": "#222", "labelPadding": 3,
              "titleFontSize": 21, "titleFontWeight": "normal", "titleColor": "#222",
              "titlePadding": -10
            }
          },
          "color": {
            "field": "stim", "type": "nominal",
            "scale": {"domain": ["Food", "Object"], "range": ["#000000", "#ff0000"]},
            "legend": {
              "title": null, "orient": "none", "legendX": 860, "legendY": 707,
              "symbolType": "stroke", "symbolStrokeWidth": 5, "symbolSize": 2600,
              "clipHeight": 32, "rowPadding": 0,
              "labelFontSize": 21, "labelColor": "#111", "labelOffset": 12
            }
          }
        }
      },
      {
        "transform": [{"filter": "datum.kind == 'note'"}],
        "mark": {"type": "text", "align": "left", "baseline": "middle", "fontSize": 22, "color": "#111"},
        "encoding": {
          "x": {"field": "t", "type": "quantitative"},
          "y": {"field": "v", "type": "quantitative"},
          "text": {"field": "label"}
        }
      },
      {
        "transform": [{"filter": "datum.kind == 'bar'"}],
        "mark": {"type": "rule", "color": "#000", "strokeWidth": 3},
        "encoding": {
          "x": {"field": "t", "type": "quantitative"},
          "x2": {"field": "t2"},
          "y": {"field": "v", "type": "quantitative"}
        }
      },
      {
        "transform": [{"filter": "datum.kind == 'barlabel'"}],
        "mark": {"type": "text", "align": "center", "baseline": "middle", "fontSize": 20, "color": "#111"},
        "encoding": {
          "x": {"field": "t", "type": "quantitative"},
          "y": {"field": "v", "type": "quantitative"},
          "text": {"field": "label"}
        }
      }
    ]
  },
  "config": {
    "font": "'Liberation Sans', Arial, sans-serif",
    "view": {"stroke": null},
    "axis": {"grid": false}
  }
}
